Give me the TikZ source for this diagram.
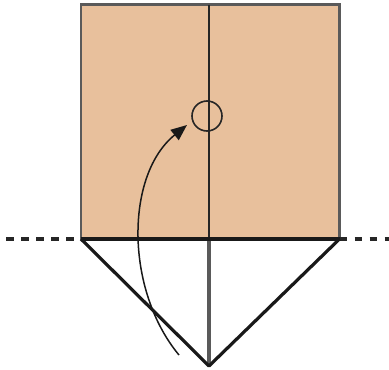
\documentclass[tikz,border=0pt]{standalone}
\usetikzlibrary{arrows.meta}
\definecolor{paper}{HTML}{E8C09C}
\definecolor{edge}{HTML}{5A5A5A}
\tikzset{
  sq/.style={fill=paper, draw=edge, line width=2.8pt},
  fold/.style={draw=black!85, line width=1.2pt},
  thick edge/.style={draw=black!90, line width=3.2pt},
  gray edge/.style={draw=edge, line width=3.2pt},
  guide/.style={draw=black!85, line width=3.4pt, dash pattern=on 7.5pt off 7.5pt},
  mark circle/.style={draw=black!85, line width=1.6pt, circle, minimum size=30pt, inner sep=0pt},
  move/.style={draw=black!90, line width=1.5pt, -{Triangle[length=16pt,width=13pt]}}
}
\begin{document}
\begin{tikzpicture}[x=1pt,y=-1pt]
\useasboundingbox (0,0) rectangle (389,370);
\coordinate (tl) at (81,4.5);
\coordinate (tr) at (339.5,4.5);
\coordinate (bl) at (81,239);
\coordinate (br) at (339.5,239);
\coordinate (mt) at (209,4.5);
\coordinate (mb) at (209,239);
\coordinate (tip) at (209,366);
\coordinate (dl) at (6,239);
\coordinate (dr) at (395,239);
\coordinate (as) at (179,355);
\coordinate (ae) at (187,125);
\path[sq] (tl) rectangle (br);
\draw[fold] (mt) -- (mb);
\node[mark circle] (c) at (207,116) {};
\draw[guide] (dl) -- (bl);
\draw[guide] (br) -- (dr);
\draw[gray edge] (mb) -- (tip);
\draw[thick edge, line join=round] (bl) -- (tip) -- (br);
\draw[thick edge] (bl) -- (br);
\draw[move] (as) .. controls (125,290) and (125,175) .. (ae);
\end{tikzpicture}
\end{document}
